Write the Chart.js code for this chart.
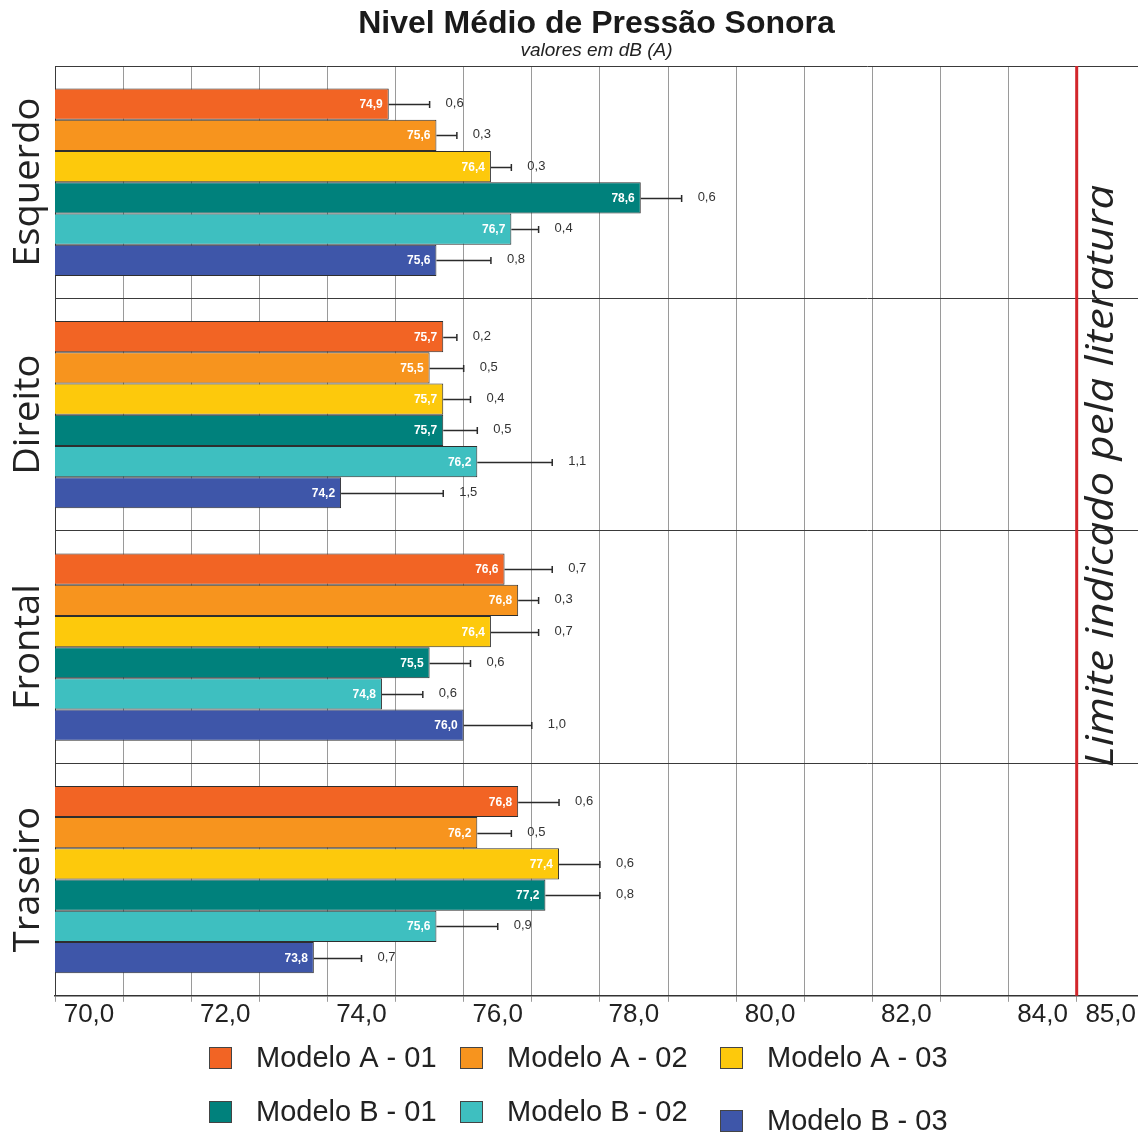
<!DOCTYPE html>
<html lang="pt">
<head>
<meta charset="utf-8">
<title>Nivel Médio de Pressão Sonora</title>
<script src="https://cdn.jsdelivr.net/npm/chart.js@4/dist/chart.umd.min.js"></script>
<style>
  html, body { margin: 0; padding: 0; background: #ffffff; }
  #wrap { width: 1138px; height: 1135px; }
</style>
</head>
<body>
<div id="wrap"><canvas id="chart" width="1138" height="1135"></canvas></div>
<script>
// Posições de medição
const categories = ['Esquerdo', 'Direito', 'Frontal', 'Traseiro'];

// Modelos avaliados
const seriesNames = ['Modelo A - 01', 'Modelo A - 02', 'Modelo A - 03',
                     'Modelo B - 01', 'Modelo B - 02', 'Modelo B - 03'];

// Médias em dB(A) por posição
const modeloA01 = [74.9, 75.7, 76.6, 76.8];
const modeloA02 = [75.6, 75.5, 76.8, 76.2];
const modeloA03 = [76.4, 75.7, 76.4, 77.4];
const modeloB01 = [78.6, 75.7, 75.5, 77.2];
const modeloB02 = [76.7, 76.2, 74.8, 75.6];
const modeloB03 = [75.6, 74.2, 76.0, 73.8];

// Desvios-padrão em dB(A)
const desvioA01 = [0.6, 0.2, 0.7, 0.6];
const desvioA02 = [0.3, 0.5, 0.3, 0.5];
const desvioA03 = [0.3, 0.4, 0.7, 0.6];
const desvioB01 = [0.6, 0.5, 0.6, 0.8];
const desvioB02 = [0.4, 1.1, 0.6, 0.9];
const desvioB03 = [0.8, 1.5, 1.0, 0.7];

// Eixo de níveis
const xTickValues = [70, 71, 72, 73, 74, 75, 76, 77, 78, 79, 80, 81, 82, 83, 84, 85];
const xTickLabels = ['70,0', '', '72,0', '', '74,0', '', '76,0', '', '78,0', '', '80,0', '', '82,0', '', '84,0', '85,0'];

// Limite de referência
const limiteLiteratura = 85;
const limiteTexto = 'Limite indicado pela literatura';

const seriesValues = [modeloA01, modeloA02, modeloA03, modeloB01, modeloB02, modeloB03];
const seriesErrors = [desvioA01, desvioA02, desvioA03, desvioB01, desvioB02, desvioB03];
const seriesColors = ['#f26424', '#f7941e', '#fdc90c', '#00817c', '#3ebfc0', '#3e56a9'];

const fmt = v => v.toFixed(1).replace('.', ',');

// Barras de erro, rótulos de valor e desvio
const barAnnotations = {
  id: 'barAnnotations',
  afterDatasetsDraw(chart) {
    const ctx = chart.ctx;
    const xs = chart.scales.x;
    chart.data.datasets.forEach((ds, di) => {
      const meta = chart.getDatasetMeta(di);
      meta.data.forEach((bar, i) => {
        const v = ds.data[i];
        const sd = seriesErrors[di][i];
        const xEnd = bar.x;
        const xErr = xs.getPixelForValue(v + sd);
        const y = Math.round(bar.y) + 0.5;
        ctx.save();
        ctx.strokeStyle = '#2b2b2b';
        ctx.lineWidth = 1.5;
        ctx.beginPath();
        ctx.moveTo(xEnd, y);
        ctx.lineTo(xErr, y);
        ctx.moveTo(xErr, y - 3.5);
        ctx.lineTo(xErr, y + 3.5);
        ctx.stroke();
        ctx.fillStyle = '#333333';
        ctx.font = '13px "Liberation Sans", Arial, sans-serif';
        ctx.textAlign = 'left';
        ctx.textBaseline = 'middle';
        ctx.fillText(fmt(sd), xErr + 16, y - 1);
        ctx.fillStyle = '#ffffff';
        ctx.font = 'bold 12px "Liberation Sans", Arial, sans-serif';
        ctx.textAlign = 'right';
        ctx.fillText(fmt(v), xEnd - 6, y);
        ctx.restore();
      });
    });
  }
};

// Linha do limite e texto vertical
const limitLine = {
  id: 'limitLine',
  afterDatasetsDraw(chart) {
    const ctx = chart.ctx;
    const area = chart.chartArea;
    const x = chart.scales.x.getPixelForValue(limiteLiteratura);
    ctx.save();
    ctx.strokeStyle = '#d2262b';
    ctx.lineWidth = 3;
    ctx.beginPath();
    ctx.moveTo(x, area.top);
    ctx.lineTo(x, area.bottom);
    ctx.stroke();
    ctx.translate(x + 25, 476);
    ctx.rotate(-Math.PI / 2);
    ctx.scale(1.12, 1);
    ctx.fillStyle = '#222222';
    ctx.font = 'italic 39px "Open Sans", "Liberation Sans", sans-serif';
    ctx.textAlign = 'center';
    ctx.textBaseline = 'middle';
    ctx.fillText(limiteTexto, 0, 0);
    ctx.restore();
  }
};

// Nomes das posições, girados, à esquerda
const categoryLabels = {
  id: 'categoryLabels',
  afterDraw(chart) {
    const ctx = chart.ctx;
    const ys = chart.scales.y;
    ctx.save();
    ctx.fillStyle = '#222222';
    ctx.font = '37px "Open Sans", "Liberation Sans", sans-serif';
    ctx.textAlign = 'center';
    ctx.textBaseline = 'middle';
    categories.forEach((c, i) => {
      const y = ys.getPixelForValue(i);
      ctx.save();
      ctx.translate(28, y);
      ctx.rotate(-Math.PI / 2);
      ctx.scale(1.03, 1);
      ctx.fillText(c, 0, 0);
      ctx.restore();
    });
    ctx.restore();
  }
};

// Legenda em duas linhas de três modelos
const legendBlock = {
  id: 'legendBlock',
  afterDraw(chart) {
    const ctx = chart.ctx;
    const colX = [209, 460, 720];
    const rowY = [1058, 1112];
    ctx.save();
    ctx.font = '29px "Liberation Sans", Arial, sans-serif';
    ctx.textBaseline = 'middle';
    ctx.textAlign = 'left';
    chart.data.datasets.forEach((ds, i) => {
      const col = i % 3;
      const row = Math.floor(i / 3);
      const x = colX[col];
      const y = rowY[row] + (i === 5 ? 9 : 0);
      ctx.fillStyle = ds.backgroundColor;
      ctx.fillRect(x, y - 11, 23, 22);
      ctx.strokeStyle = '#444444';
      ctx.lineWidth = 1;
      ctx.strokeRect(x + 0.5, y - 10.5, 22, 21);
      ctx.fillStyle = '#222222';
      ctx.fillText(ds.label, x + 47, y + 1);
    });
    ctx.restore();
  }
};

new Chart(document.getElementById('chart'), {
  type: 'bar',
  data: {
    labels: categories,
    datasets: seriesNames.map((name, i) => ({
      label: name,
      data: seriesValues[i],
      backgroundColor: seriesColors[i],
      borderColor: '#2e2e2e',
      borderWidth: 1,
      borderSkipped: false,
      categoryPercentage: 0.806,
      barPercentage: 1.0
    }))
  },
  options: {
    indexAxis: 'y',
    responsive: false,
    animation: false,
    devicePixelRatio: 1,
    layout: { padding: { left: 55, right: 0, bottom: 108, top: 0 } },
    plugins: {
      legend: { display: false },
      tooltip: { enabled: false },
      title: {
        display: true,
        text: 'Nivel Médio de Pressão Sonora',
        color: '#1a1a1a',
        font: { family: '"Liberation Sans", Arial, sans-serif', size: 32, weight: 'bold', lineHeight: 1.0 },
        padding: { top: 8, bottom: 0 }
      },
      subtitle: {
        display: true,
        text: 'valores em dB (A)',
        color: '#222222',
        font: { family: '"Liberation Sans", Arial, sans-serif', size: 19, style: 'italic', lineHeight: 1.0 },
        padding: { top: 1, bottom: 6 }
      }
    },
    scales: {
      x: {
        type: 'linear',
        min: 70,
        max: 85.9,
        afterBuildTicks(scale) {
          scale.ticks = xTickValues.map(v => ({ value: v }));
        },
        grid: {
          color: '#9a9a9a',
          lineWidth: 1,
          tickLength: 6,
          drawTicks: true
        },
        border: { color: '#333333', width: 1.5 },
        ticks: {
          autoSkip: false,
          maxRotation: 0,
          labelOffset: 34,
          padding: -3,
          color: '#222222',
          font: { family: '"Liberation Sans Narrow", "Liberation Sans", Arial, sans-serif', size: 26 },
          callback(value, index) { return xTickLabels[index]; }
        }
      },
      y: {
        type: 'category',
        grid: { color: '#3a3a3a', lineWidth: 1, drawTicks: false, offset: true },
        border: { color: '#3a3a3a', width: 1 },
        ticks: { display: false }
      }
    }
  },
  plugins: [barAnnotations, limitLine, categoryLabels, legendBlock]
});
</script>
</body>
</html>
